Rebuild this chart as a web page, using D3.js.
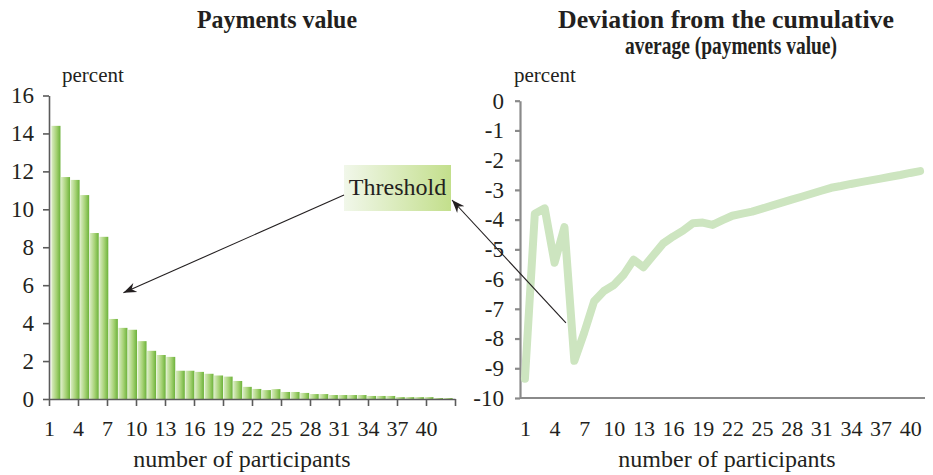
<!DOCTYPE html>
<html>
<head>
<meta charset="utf-8">
<script src="https://cdn.jsdelivr.net/npm/d3@7"></script>
<style>
  html, body { margin: 0; padding: 0; background: #fff; }
  svg { display: block; font-family: "Liberation Serif", "Times New Roman", serif; }
</style>
</head>
<body>
<svg id="chart" width="933" height="475"></svg>
<script>
// Payments value share by participant rank (percent)
const barParticipants = [1,2,3,4,5,6,7,8,9,10,11,12,13,14,15,16,17,18,19,20,21,
  22,23,24,25,26,27,28,29,30,31,32,33,34,35,36,37,38,39,40,41,42];
const paymentShares = [14.4,11.7,11.55,10.75,8.75,8.55,4.22,3.75,3.65,3.05,2.54,2.32,2.22,
  1.49,1.49,1.43,1.33,1.24,1.18,0.95,0.64,0.53,0.47,0.52,0.37,0.37,0.32,0.26,0.26,
  0.21,0.21,0.21,0.21,0.16,0.16,0.16,0.1,0.1,0.1,0.1,0.05,0.05];

// Deviation from the cumulative average (percent)
const lineParticipants = [1,2,3,4,5,6,7,8,9,10,11,12,13,14,15,16,17,18,19,20,21,
  22,23,24,25,26,27,28,29,30,31,32,33,34,35,36,37,38,39,40,41];
const deviationValues = [-9.35,-3.8,-3.62,-5.45,-4.25,-8.75,-7.8,-6.75,-6.4,-6.2,-5.85,-5.35,
  -5.6,-5.2,-4.8,-4.57,-4.37,-4.12,-4.1,-4.18,-4.02,-3.87,-3.8,-3.73,-3.63,-3.53,-3.43,
  -3.33,-3.23,-3.13,-3.03,-2.93,-2.87,-2.8,-2.74,-2.68,-2.62,-2.56,-2.5,-2.43,-2.37];

const participantTickLabels = [1,4,7,10,13,16,19,22,25,28,31,34,37,40];
const shareTicks = [0,2,4,6,8,10,12,14,16];
const deviationTicks = [0,-1,-2,-3,-4,-5,-6,-7,-8,-9,-10];

const svg = d3.select("#chart");
const ink = "#231f20";
const serif = "'Liberation Serif', 'Times New Roman', serif";
const defs = svg.append("defs");

const barGrad = defs.append("linearGradient").attr("id", "barGrad")
  .attr("x1", 0).attr("x2", 1).attr("y1", 0).attr("y2", 0);
barGrad.append("stop").attr("offset", 0).attr("stop-color", "#dcedc6");
barGrad.append("stop").attr("offset", 0.55).attr("stop-color", "#a6d275");
barGrad.append("stop").attr("offset", 1).attr("stop-color", "#6cb23a");

const boxGrad = defs.append("linearGradient").attr("id", "boxGrad")
  .attr("x1", 0).attr("x2", 1).attr("y1", 0).attr("y2", 0);
boxGrad.append("stop").attr("offset", 0).attr("stop-color", "#f1f7ea");
boxGrad.append("stop").attr("offset", 1).attr("stop-color", "#c3df8c");

defs.append("marker").attr("id", "head")
  .attr("markerUnits", "userSpaceOnUse")
  .attr("viewBox", "-13 -6 15 12")
  .attr("markerWidth", 15).attr("markerHeight", 12)
  .attr("refX", 0).attr("refY", 0).attr("orient", "auto")
  .append("path").attr("d", "M0,0 L-13,-5 L-9,0 L-13,5 Z").attr("fill", ink);

// ---------- Left panel: bars ----------
const yL = d3.scaleLinear().domain([0, 16]).range([399, 95.5]);
const xBand = d3.scaleBand().domain(barParticipants).range([49, 455])
  .paddingInner(0.05).paddingOuter(0.25);
const xEdge = d3.scaleLinear().domain([0, barParticipants.length]).range([49, 455]);

svg.append("g").selectAll("rect").data(barParticipants).join("rect")
  .attr("x", d => xBand(d))
  .attr("width", xBand.bandwidth())
  .attr("y", (d, i) => yL(paymentShares[i]))
  .attr("height", (d, i) => yL(0) - yL(paymentShares[i]))
  .attr("fill", "url(#barGrad)");

const leftAxisColor = "#5b5b5b";
const yAxisL = svg.append("g").attr("transform", `translate(${xEdge(0)},0)`)
  .call(d3.axisLeft(yL).tickValues(shareTicks).tickSize(6).tickSizeOuter(0).tickPadding(9)
    .tickFormat(d => String(d)));

const edgeTicks = participantTickLabels.map(v => v - 1).concat([barParticipants.length]);
const xAxisL = svg.append("g").attr("transform", `translate(0,${yL(0)})`)
  .call(d3.axisBottom(xEdge).tickValues(edgeTicks).tickSize(7).tickSizeOuter(0).tickPadding(14)
    .tickFormat(k => participantTickLabels.includes(k + 1) ? String(k + 1) : ""));

yAxisL.selectAll("text").style("font-size", "23px");
xAxisL.selectAll("text").style("font-size", "22px");
[yAxisL, xAxisL].forEach(g => {
  g.attr("font-family", null);
  g.selectAll("path, line").attr("stroke", leftAxisColor).attr("stroke-width", 1.6);
  g.selectAll("text").attr("fill", ink).style("font-family", serif);
});

// ---------- Right panel: line ----------
const yR = d3.scaleLinear().domain([-10, 0]).range([398, 100.7]);
const xR = d3.scalePoint().domain(lineParticipants).range([520, 925]).padding(0.5);

const rightAxisColor = "#8a8a8a";
const yAxisR = svg.append("g").attr("transform", "translate(520,0)")
  .call(d3.axisLeft(yR).tickValues(deviationTicks).tickSize(5).tickSizeOuter(0).tickPadding(11)
    .tickFormat(d => String(d)));
const xAxisR = svg.append("g").attr("transform", `translate(0,${yR(-10)})`)
  .call(d3.axisBottom(xR).tickValues(participantTickLabels).tickSize(0).tickSizeOuter(0).tickPadding(22));
xAxisR.select(".domain").attr("d", `M520,0H925`);

yAxisR.selectAll("text").style("font-size", "23px");
xAxisR.selectAll("text").style("font-size", "22px");
[yAxisR, xAxisR].forEach(g => {
  g.attr("font-family", null);
  g.selectAll("path, line").attr("stroke", rightAxisColor).attr("stroke-width", 2.2);
  g.selectAll("text").attr("fill", ink).style("font-family", serif);
});

const line = d3.line()
  .x((d, i) => xR(lineParticipants[i]))
  .y(d => yR(d));
svg.append("path").datum(deviationValues)
  .attr("d", line)
  .attr("fill", "none")
  .attr("stroke", "#cde5c0")
  .attr("stroke-width", 8)
  .attr("stroke-linejoin", "round")
  .attr("stroke-linecap", "round");

// ---------- Titles and axis captions ----------
function label(x, y, text, opts = {}) {
  const t = svg.append("text").attr("x", x).attr("y", y).text(text)
    .attr("fill", ink)
    .attr("text-anchor", opts.anchor || "middle")
    .style("font-family", serif)
    .style("font-size", (opts.size || 20) + "px")
    .style("font-weight", opts.bold ? "bold" : "normal");
  if (opts.width) t.attr("textLength", opts.width).attr("lengthAdjust", "spacingAndGlyphs");
  return t;
}
label(277, 28, "Payments value", { bold: true, size: 25, width: 160 });
label(726, 28, "Deviation from the cumulative", { bold: true, size: 25, width: 336 });
label(731, 54, "average (payments value)", { bold: true, size: 25, width: 212 });
label(62, 82, "percent", { anchor: "start", size: 21 });
label(514, 82, "percent", { anchor: "start", size: 21 });
label(242, 467, "number of participants", { size: 24 });
label(727, 467, "number of participants", { size: 24 });

// ---------- Threshold annotation ----------
const box = { x: 344, y: 165, w: 107, h: 46 };
svg.append("rect").attr("x", box.x).attr("y", box.y).attr("width", box.w).attr("height", box.h)
  .attr("fill", "url(#boxGrad)");
label(box.x + box.w / 2, box.y + 30, "Threshold", { size: 24 });

// arrow into the bar panel (points at the drop after the sixth participant)
const barTarget = { edge: 7.7, share: 5.6 };
svg.append("line")
  .attr("x1", box.x).attr("y1", box.y + 30)
  .attr("x2", xEdge(barTarget.edge)).attr("y2", yL(barTarget.share))
  .attr("stroke", ink).attr("stroke-width", 1.1)
  .attr("marker-end", "url(#head)");

// arrow from the line panel back to the box
const lineSource = { participant: 5, offset: 0.15, deviation: -7.47 };
svg.append("line")
  .attr("x1", xR(lineSource.participant) + lineSource.offset * xR.step())
  .attr("y1", yR(lineSource.deviation))
  .attr("x2", box.x + box.w + 1).attr("y2", box.y + 35)
  .attr("stroke", ink).attr("stroke-width", 1.1)
  .attr("marker-end", "url(#head)");
</script>
</body>
</html>
